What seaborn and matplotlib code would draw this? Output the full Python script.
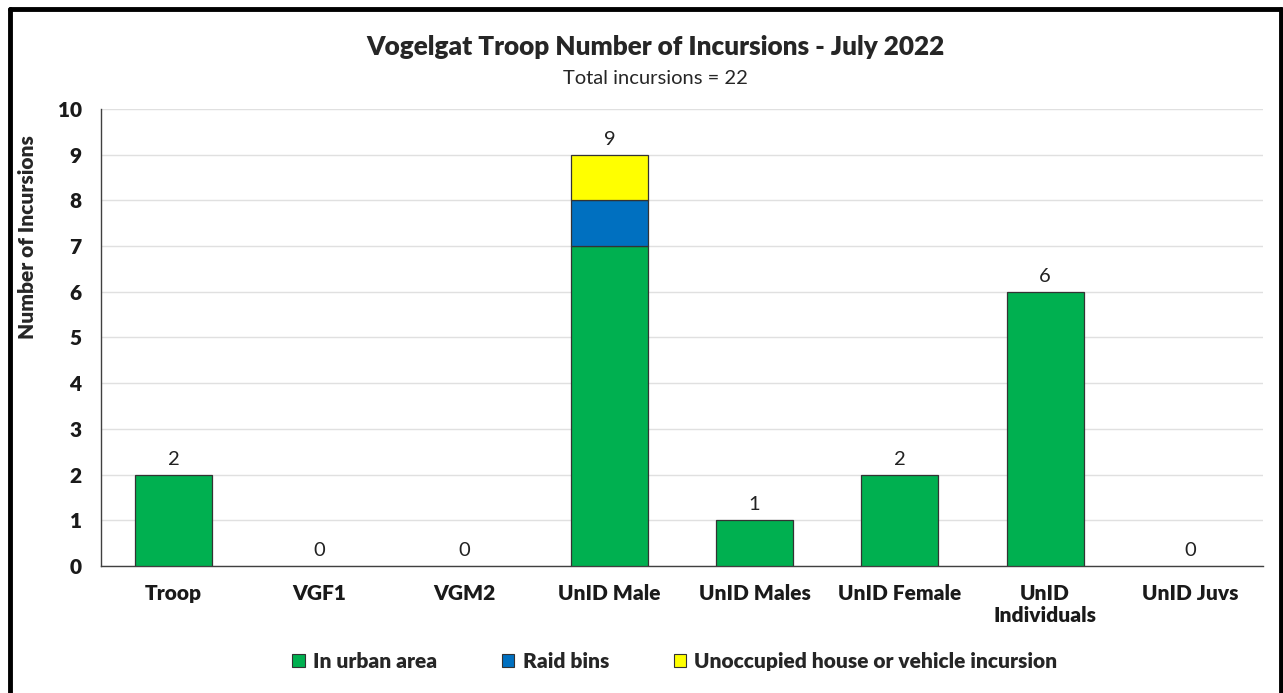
import pandas as pd
import numpy as np
import matplotlib.pyplot as plt
import seaborn as sns
from matplotlib.patches import Patch
from matplotlib.lines import Line2D

# data
categories = ['Troop', 'VGF1', 'VGM2', 'UnID Male', 'UnID Males', 'UnID Female',
              'UnID\nIndividuals', 'UnID Juvs']
urban = [2, 0, 0, 7, 1, 2, 6, 0]
raid_bins = [0, 0, 0, 1, 0, 0, 0, 0]
unoccupied = [0, 0, 0, 1, 0, 0, 0, 0]
series_names = ['In urban area', 'Raid bins', 'Unoccupied house or vehicle incursion']
colors = ['#00B050', '#0070C0', '#FFFF00']

df = pd.DataFrame({'cat': categories, 'urban': urban, 'raid': raid_bins, 'unocc': unoccupied})
df['total'] = df['urban'] + df['raid'] + df['unocc']

sns.set_style('white')
plt.rcParams['font.family'] = ['Lato', 'DejaVu Sans']

fig = plt.figure(figsize=(12.83, 6.93), dpi=100)
ax = fig.add_axes([0.0787, 0.1833, 0.9057, 0.6594])

bottom = np.zeros(len(df))
for col, c in zip(['urban', 'raid', 'unocc'], colors):
    sns.barplot(data=df, x='cat', y=col, color=c, bottom=bottom, width=0.53,
                edgecolor='#333333', linewidth=0.9, ax=ax, saturation=1, zorder=3)
    bottom = bottom + df[col].values

# hide outlines of empty segments
for p in ax.patches:
    if p.get_height() == 0:
        p.set_linewidth(0)

# total labels
for i, t in enumerate(df['total']):
    ax.annotate(str(t), (i, t), xytext=(0, 5), textcoords='offset points',
                ha='center', va='bottom', fontsize=14.5, color='#222222')

ax.set_ylim(0, 10)
ax.set_xlim(-0.5, len(df) - 0.5)
ax.set_yticks(range(0, 11))
ax.yaxis.grid(True, color='#E0E0E0', linewidth=1, zorder=0)
ax.set_axisbelow(True)
for s in ['top', 'right']:
    ax.spines[s].set_visible(False)
ax.spines['left'].set_color('#404040')
ax.spines['bottom'].set_color('#404040')
ax.spines['left'].set_linewidth(1)
ax.spines['bottom'].set_linewidth(1)
ax.tick_params(axis='both', length=0)
ax.tick_params(axis='y', pad=14)
ax.tick_params(axis='x', pad=13)
plt.setp(ax.get_xticklabels(), fontsize=15, fontweight='heavy', color='#1a1a1a')
plt.setp(ax.get_yticklabels(), fontsize=15, fontweight='heavy', color='#1a1a1a')
ax.set_xlabel('')
ax.set_ylabel('Number of Incursions', fontsize=15, fontweight='heavy')
ax.yaxis.set_label_coords(-0.055, 0.72)

fig.text(0.511, 0.932, 'Vogelgat Troop Number of Incursions - July 2022',
         ha='center', va='center', fontsize=18.8, fontweight='heavy')
fig.text(0.511, 0.887, 'Total incursions = 22', ha='center', va='center', fontsize=14.5)

handles = [Patch(facecolor=c, edgecolor='#333333', linewidth=0.8) for c in colors]
fig.legend(handles, series_names, loc='center', bbox_to_anchor=(0.526, 0.046), ncol=3,
           frameon=False, prop={'weight': 'heavy', 'size': 15}, handlelength=0.6,
           handleheight=0.6, handletextpad=0.4, columnspacing=3.1)

# outer border
lw = 3.5
fig.add_artist(Line2D([10 / 1283, 10 / 1283], [0, 1 - 9 / 693], transform=fig.transFigure, color='black', lw=lw))
fig.add_artist(Line2D([10 / 1283, 1281 / 1283], [1 - 9 / 693, 1 - 9 / 693], transform=fig.transFigure, color='black', lw=lw))
fig.add_artist(Line2D([1281 / 1283, 1281 / 1283], [0, 1 - 9 / 693], transform=fig.transFigure, color='black', lw=lw))

fig.savefig('out.png', dpi=100)
